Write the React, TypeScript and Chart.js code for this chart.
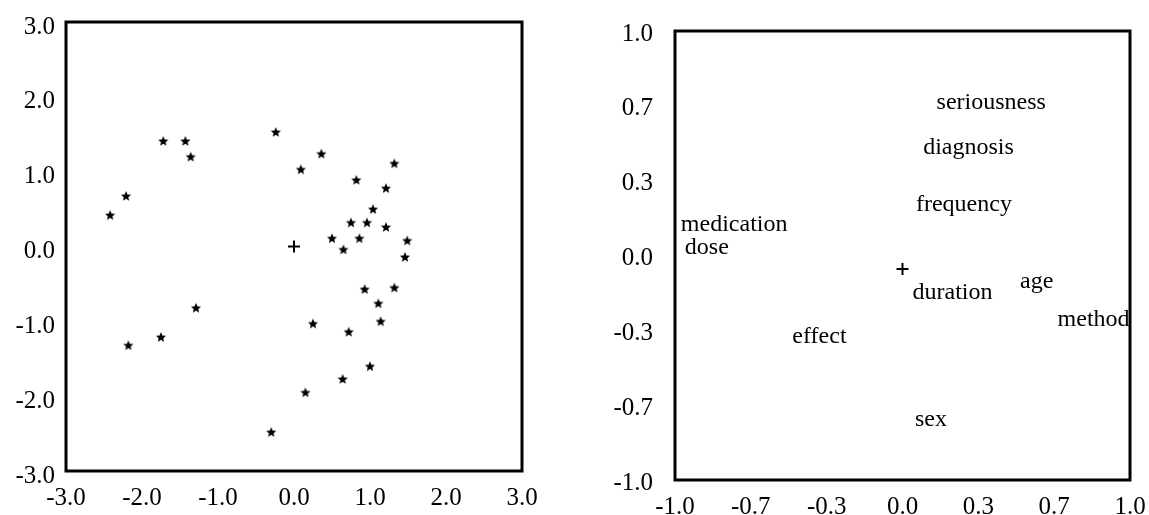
import React, { useEffect, useRef } from "react";
import { Chart, registerables } from "chart.js";

Chart.register(...registerables);

// Object scores on the first two dimensions
const caseX = [
  -2.42, -2.21, -1.72, -1.43, -1.36, -0.24, 0.36, 0.09, 1.32, 0.82, 1.21,
  1.04, 0.75, 0.96, 1.21, 0.5, 0.86, 0.65, 1.49, 1.46, 0.93, 1.32, 1.11,
  1.14, 0.25, 0.72, 1.0, 0.64, 0.15, -1.29, -1.75, -2.18, -0.3,
];
const caseY = [
  0.42, 0.675, 1.41, 1.41, 1.2, 1.53, 1.24, 1.03, 1.11, 0.89, 0.78, 0.5,
  0.32, 0.32, 0.26, 0.11, 0.11, -0.04, 0.08, -0.14, -0.57, -0.55, -0.76,
  -1.0, -1.03, -1.14, -1.6, -1.77, -1.95, -0.82, -1.21, -1.32, -2.48,
];
const caseTicks = [-3, -2, -1, 0, 1, 2, 3];

// Variable loadings on the same two dimensions
const variableNames = [
  "seriousness",
  "diagnosis",
  "frequency",
  "medication",
  "dose",
  "effect",
  "duration",
  "age",
  "method",
  "sex",
];
const variableX = [0.39, 0.29, 0.27, -0.74, -0.86, -0.365, 0.22, 0.59, 0.84, 0.125];
const variableY = [0.68, 0.48, 0.225, 0.136, 0.033, -0.363, -0.167, -0.118, -0.287, -0.733];
const variableTicks = [-1, -0.6667, -0.3333, 0, 0.3333, 0.6667, 1];

// Centroid markers
const caseOrigin = { x: 0, y: 0 };
const variableOrigin = { x: 0, y: -0.06 };

const FONT_FAMILY = '"Liberation Serif", "Times New Roman", serif';

function makeStar(): HTMLCanvasElement {
  const c = document.createElement("canvas");
  c.width = 12;
  c.height = 12;
  const g = c.getContext("2d")!;
  const cx = 6;
  const cy = 6.4;
  const outer = 5.3;
  const inner = 2.4;
  g.beginPath();
  for (let i = 0; i < 10; i++) {
    const r = i % 2 === 0 ? outer : inner;
    const a = -Math.PI / 2 + (i * Math.PI) / 5;
    const px = cx + r * Math.cos(a);
    const py = cy + r * Math.sin(a);
    if (i === 0) g.moveTo(px, py);
    else g.lineTo(px, py);
  }
  g.closePath();
  g.fillStyle = "#000";
  g.fill();
  return c;
}

const framePlugin = {
  id: "frame",
  afterDraw(chart: any) {
    const { left, top, right, bottom } = chart.chartArea;
    const ctx = chart.ctx;
    ctx.save();
    ctx.strokeStyle = "#000";
    ctx.lineWidth = 3;
    ctx.strokeRect(left, top, right - left, bottom - top);
    ctx.restore();
  },
};

const variableLabelPlugin = {
  id: "variableLabels",
  afterDatasetsDraw(chart: any) {
    const meta = chart.getDatasetMeta(0);
    const ctx = chart.ctx;
    ctx.save();
    ctx.font = `24px ${FONT_FAMILY}`;
    ctx.fillStyle = "#000";
    ctx.textAlign = "center";
    ctx.textBaseline = "middle";
    meta.data.forEach((el: any, i: number) => {
      ctx.fillText(variableNames[i], el.x, el.y);
    });
    ctx.restore();
  },
};

// Fixed axis sizes; label overflow padding is dropped so the plot box
// is governed only by layout.padding.
function fixedSize(dim: "width" | "height", size: number) {
  return (s: any) => {
    s[dim] = size;
    s.paddingTop = 0;
    s.paddingBottom = 0;
    s.paddingLeft = 0;
    s.paddingRight = 0;
  };
}

function axes(
  min: number,
  max: number,
  ticks: number[],
  yWidth: number,
  xHeight: number,
  yPad: number,
  xPad: number,
  yLabelShift: number
) {
  const tickFont = { family: FONT_FAMILY, size: 25 };
  return {
    x: {
      type: "linear" as const,
      min,
      max,
      grid: { display: false, drawTicks: false },
      border: { display: false },
      afterBuildTicks: (s: any) => {
        s.ticks = ticks.map((v) => ({ value: v }));
      },
      afterFit: fixedSize("height", xHeight),
      ticks: {
        color: "#000",
        font: tickFont,
        padding: xPad,
        maxRotation: 0,
        autoSkip: false,
        callback: (v: any) => Number(v).toFixed(1),
      },
    },
    y: {
      type: "linear" as const,
      min,
      max,
      grid: { display: false, drawTicks: false },
      border: { display: false },
      afterBuildTicks: (s: any) => {
        s.ticks = ticks.map((v) => ({ value: v }));
      },
      afterFit: fixedSize("width", yWidth),
      ticks: {
        color: "#000",
        font: tickFont,
        padding: yPad,
        labelOffset: yLabelShift,
        autoSkip: false,
        callback: (v: any) => Number(v).toFixed(1),
      },
    },
  };
}

function CasePlot() {
  const ref = useRef<HTMLCanvasElement>(null);
  useEffect(() => {
    const star = makeStar();
    const chart = new Chart(ref.current!, {
      type: "scatter",
      data: {
        datasets: [
          {
            data: caseX.map((x, i) => ({ x, y: caseY[i] })),
            pointStyle: star,
            pointRadius: 5,
            backgroundColor: "#000",
            borderColor: "#000",
          },
          {
            data: [caseOrigin],
            pointStyle: "cross",
            pointRadius: 6,
            borderWidth: 2,
            borderColor: "#000",
            backgroundColor: "#000",
          },
        ],
      },
      options: {
        responsive: false,
        animation: false,
        events: [],
        layout: {
          autoPadding: false,
          padding: { top: 22, right: 58, bottom: 0, left: 0 },
        },
        plugins: { legend: { display: false }, tooltip: { enabled: false } },
        scales: axes(-3, 3, caseTicks, 66, 44, 11, 12, 5),
      },
      plugins: [framePlugin],
    });
    return () => chart.destroy();
  }, []);
  return (
    <canvas
      ref={ref}
      width={580}
      height={515}
      style={{ position: "absolute", left: 0, top: 0 }}
    />
  );
}

function VariablePlot() {
  const ref = useRef<HTMLCanvasElement>(null);
  useEffect(() => {
    const chart = new Chart(ref.current!, {
      type: "scatter",
      data: {
        datasets: [
          {
            data: variableX.map((x, i) => ({ x, y: variableY[i] })),
            pointRadius: 0,
          },
          {
            data: [variableOrigin],
            pointStyle: "cross",
            pointRadius: 6,
            borderWidth: 2,
            borderColor: "#000",
            backgroundColor: "#000",
          },
        ],
      },
      options: {
        responsive: false,
        animation: false,
        events: [],
        layout: {
          autoPadding: false,
          padding: { top: 31, right: 19, bottom: 0, left: 0 },
        },
        plugins: { legend: { display: false }, tooltip: { enabled: false } },
        scales: axes(-1, 1, variableTicks, 95, 35, 22, 12, 3),
      },
      plugins: [variableLabelPlugin, framePlugin],
    });
    return () => chart.destroy();
  }, []);
  return (
    <canvas
      ref={ref}
      width={569}
      height={515}
      style={{ position: "absolute", left: 580, top: 0 }}
    />
  );
}

export default function App() {
  return (
    <div
      style={{
        position: "absolute",
        left: 0,
        top: 0,
        width: 1149,
        height: 515,
        background: "#fff",
      }}
    >
      <CasePlot />
      <VariablePlot />
    </div>
  );
}
